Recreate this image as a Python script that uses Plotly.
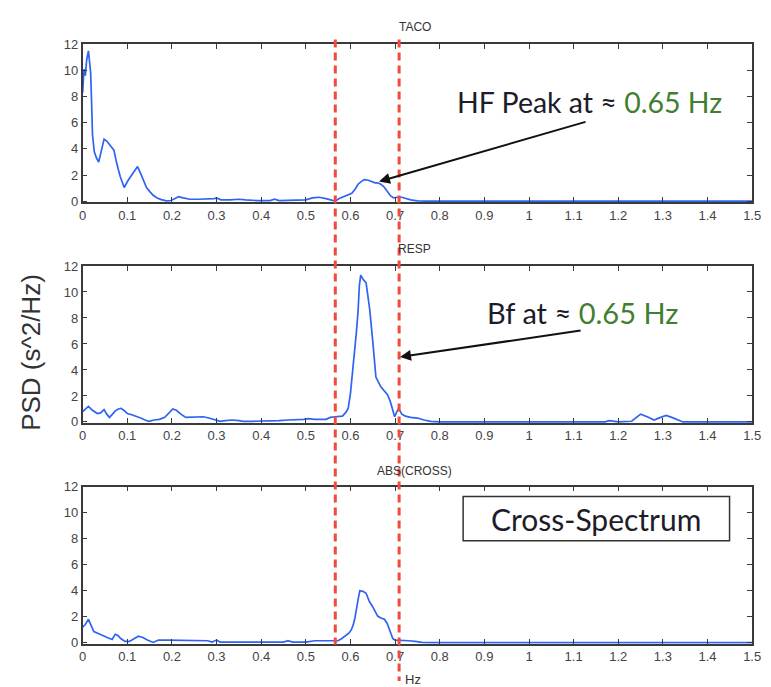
import plotly.graph_objects as go

# Power spectral density estimates (frequency in Hz, PSD in s^2/Hz)
taco_f = [0.000, 0.003, 0.006, 0.009, 0.013, 0.016, 0.018, 0.020, 0.022, 0.026,
          0.031, 0.036, 0.042, 0.048, 0.054, 0.059, 0.065, 0.070, 0.077, 0.084,
          0.093, 0.102, 0.113, 0.123, 0.132, 0.143, 0.150, 0.158, 0.167, 0.176,
          0.188, 0.198, 0.207, 0.215, 0.225, 0.240, 0.260, 0.280, 0.295, 0.300,
          0.310, 0.330, 0.350, 0.365, 0.390, 0.420, 0.430, 0.440, 0.480, 0.500,
          0.515, 0.530, 0.545, 0.560, 0.566, 0.575, 0.585, 0.595, 0.603, 0.610,
          0.617, 0.624, 0.631, 0.640, 0.648, 0.655, 0.661, 0.668, 0.675, 0.683,
          0.690, 0.697, 0.705, 0.715, 0.725, 0.735, 0.750, 0.770, 1.500]
taco_psd = [8.3, 10.1, 9.6, 10.8, 11.5, 10.2, 9.8, 7.6, 5.1, 3.8,
            3.3, 3.0, 3.9, 4.75, 4.6, 4.4, 4.15, 3.9, 2.8, 1.9,
            1.05, 1.6, 2.15, 2.65, 1.95, 1.05, 0.75, 0.45, 0.25, 0.12,
            0.03, 0.05, 0.2, 0.35, 0.25, 0.15, 0.15, 0.15, 0.2, 0.25,
            0.1, 0.1, 0.15, 0.1, 0.05, 0.05, 0.15, 0.05, 0.05, 0.1,
            0.25, 0.3, 0.2, 0.05, 0.0, 0.2, 0.35, 0.45, 0.6, 0.9,
            1.3, 1.5, 1.65, 1.6, 1.5, 1.4, 1.4, 1.3, 1.1, 0.7,
            0.4, 0.25, 0.3, 0.3, 0.2, 0.1, 0.03, 0.0, 0.0]

resp_f = [0.000, 0.006, 0.013, 0.022, 0.033, 0.040, 0.048, 0.054, 0.060, 0.067,
          0.073, 0.080, 0.086, 0.092, 0.100, 0.110, 0.120, 0.130, 0.140, 0.148,
          0.160, 0.172, 0.184, 0.193, 0.202, 0.210, 0.220, 0.231, 0.245, 0.257,
          0.270, 0.283, 0.296, 0.308, 0.320, 0.335, 0.350, 0.360, 0.380, 0.420,
          0.440, 0.460, 0.480, 0.495, 0.505, 0.520, 0.545, 0.555, 0.565, 0.575,
          0.582, 0.590, 0.595, 0.600, 0.605, 0.609, 0.613, 0.617, 0.620, 0.623,
          0.628, 0.635, 0.639, 0.643, 0.650, 0.657, 0.668, 0.676, 0.683, 0.689,
          0.694, 0.699, 0.704, 0.708, 0.715, 0.723, 0.735, 0.750, 0.765, 0.780,
          0.800, 1.170, 1.180, 1.200, 1.230, 1.250, 1.265, 1.280, 1.295, 1.307,
          1.320, 1.335, 1.345, 1.500]
resp_psd = [0.8, 1.0, 1.2, 0.9, 0.65, 0.7, 0.95, 0.6, 0.35, 0.6,
            0.85, 1.0, 1.05, 0.9, 0.65, 0.55, 0.45, 0.3, 0.15, 0.05,
            0.15, 0.2, 0.35, 0.7, 1.0, 0.9, 0.6, 0.35, 0.35, 0.4,
            0.4, 0.3, 0.15, 0.05, 0.1, 0.15, 0.1, 0.05, 0.05, 0.05,
            0.1, 0.15, 0.15, 0.2, 0.25, 0.2, 0.2, 0.35, 0.4, 0.4,
            0.45, 0.75, 1.05, 2.2, 3.8, 5.2, 6.8, 8.5, 10.5, 11.3,
            11.0, 10.7, 9.8, 8.7, 6.2, 3.45, 2.7, 2.4, 2.1, 1.6,
            0.9, 0.4, 0.8, 1.05, 0.6, 0.45, 0.35, 0.3, 0.15, 0.05,
            0.0, 0.0, 0.1, 0.0, 0.05, 0.6, 0.4, 0.15, 0.35, 0.5,
            0.35, 0.15, 0.0, 0.0]

cross_f = [0.000, 0.006, 0.013, 0.019, 0.025, 0.035, 0.044, 0.055, 0.066, 0.073,
           0.079, 0.086, 0.095, 0.105, 0.115, 0.125, 0.135, 0.145, 0.158, 0.170,
           0.190, 0.220, 0.260, 0.280, 0.290, 0.300, 0.308, 0.330, 0.400, 0.450,
           0.460, 0.470, 0.500, 0.520, 0.560, 0.572, 0.580, 0.590, 0.597, 0.602,
           0.606, 0.610, 0.613, 0.617, 0.621, 0.628, 0.635, 0.642, 0.650, 0.656,
           0.661, 0.668, 0.676, 0.682, 0.687, 0.691, 0.695, 0.700, 0.715, 0.730,
           0.745, 0.760, 0.780, 1.500]
cross_psd = [1.2, 1.4, 1.8, 1.3, 0.85, 0.7, 0.55, 0.4, 0.25, 0.65,
             0.55, 0.3, 0.1, 0.1, 0.3, 0.5, 0.4, 0.2, 0.02, 0.2,
             0.2, 0.2, 0.2, 0.15, 0.05, 0.2, 0.05, 0.05, 0.05, 0.05,
             0.15, 0.05, 0.05, 0.15, 0.15, 0.15, 0.3, 0.55, 0.75, 1.0,
             1.35, 1.9, 2.6, 3.3, 4.0, 3.95, 3.8, 3.2, 2.75, 2.3,
             2.05, 1.9, 1.8, 1.5, 1.05, 0.6, 0.3, 0.2, 0.2, 0.15,
             0.1, 0.03, 0.0, 0.0]

panel_titles = ["TACO", "RESP", "ABS(CROSS)"]
x_ticks = [0, 0.1, 0.2, 0.3, 0.4, 0.5, 0.6, 0.7, 0.8, 0.9, 1.0, 1.1, 1.2, 1.3, 1.4, 1.5]
x_tick_text = ["0", "0.1", "0.2", "0.3", "0.4", "0.5", "0.6", "0.7", "0.8", "0.9",
               "1", "1.1", "1.2", "1.3", "1.4", "1.5"]
y_ticks = [0, 2, 4, 6, 8, 10, 12]

# HF band edges (Hz)
band_lo = 0.566
band_hi = 0.709

W, H = 771, 687
BLUE = "#2f63f2"
RED = "#f04b3c"
GREEN = "#3f7f2f"
INK = "#1c1c2a"

def px_x(p):
    return p / W

def px_y(p):
    return (H - p) / H

x_dom = [px_x(80), px_x(761)]
y_doms = [[px_y(199), px_y(38)], [px_y(424), px_y(264)], [px_y(649), px_y(489)]]

fig = go.Figure()
series = [(taco_f, taco_psd), (resp_f, resp_psd), (cross_f, cross_psd)]
for i, (f, p) in enumerate(series):
    sfx = "" if i == 0 else str(i + 1)
    fig.add_trace(go.Scatter(x=f, y=p, mode="lines", xaxis="x" + sfx, yaxis="y" + sfx,
                             line=dict(color=BLUE, width=1.7), showlegend=False,
                             hoverinfo="skip"))

tick_font = dict(family="Liberation Sans, Arial, sans-serif", size=13, color="#444")
axis_common = dict(showline=True, linecolor="#3a3a3a", linewidth=1.5, mirror="ticks",
                   ticks="inside", ticklen=5, tickwidth=1.2, tickcolor="#3a3a3a",
                   showgrid=False, zeroline=False, tickfont=tick_font, fixedrange=True)

layout = dict(width=W, height=H, autosize=False, margin=dict(l=0, r=0, t=0, b=0),
              paper_bgcolor="white", plot_bgcolor="white", showlegend=False)
for i in range(3):
    sfx = "" if i == 0 else str(i + 1)
    layout["xaxis" + sfx] = dict(axis_common, domain=x_dom, range=[0, 1.5],
                                 tickvals=x_ticks, ticktext=x_tick_text,
                                 anchor="y" + sfx)
    layout["yaxis" + sfx] = dict(axis_common, domain=y_doms[i], range=[-0.08, 12],
                                 tickvals=y_ticks, anchor="x" + sfx)
fig.update_layout(**layout)

annotations = []
title_y = [20.5, 247, 473]
for t, yy in zip(panel_titles, title_y):
    annotations.append(dict(text=t, xref="paper", yref="paper", x=px_x(418), y=px_y(yy),
                            xanchor="center", yanchor="middle", showarrow=False,
                            font=dict(family="Liberation Sans, Arial, sans-serif",
                                      size=12, color="#333")))

annotations.append(dict(text="PSD (s^2/Hz)", xref="paper", yref="paper",
                        x=px_x(28), y=px_y(352), textangle=-90, showarrow=False,
                        xanchor="center", yanchor="middle",
                        font=dict(family="Liberation Sans, Arial, sans-serif",
                                  size=26, color="#333")))
annotations.append(dict(text="Hz", xref="paper", yref="paper", x=px_x(416), y=px_y(676),
                        xanchor="center", yanchor="top", showarrow=False,
                        font=dict(family="Liberation Sans, Arial, sans-serif",
                                  size=13, color="#333")))

callout_font = dict(family="Lato, Open Sans, sans-serif", size=28.5, color=INK)
annotations.append(dict(text=f"HF Peak at ≈ <span style='color:{GREEN}'>0.65 Hz</span>",
                        xref="paper", yref="paper", x=px_x(596), y=px_y(97),
                        xanchor="center", yanchor="middle", showarrow=False,
                        font=callout_font))
annotations.append(dict(text=f"Bf at ≈ <span style='color:{GREEN}'>0.65 Hz</span>",
                        xref="paper", yref="paper", x=px_x(588), y=px_y(311),
                        xanchor="center", yanchor="middle", showarrow=False,
                        font=dict(callout_font, size=29)))
annotations.append(dict(text="Cross-Spectrum", xref="paper", yref="paper",
                        x=px_x(602), y=px_y(522), xanchor="center", yanchor="middle",
                        showarrow=False, font=dict(callout_font, size=30)))

# Arrows pointing at the HF peak / band edge
annotations.append(dict(text="", xref="x", yref="y", x=0.664, y=1.5,
                        axref="x", ayref="y", ax=1.13, ay=6.1, showarrow=True,
                        arrowhead=2, arrowsize=1.1, arrowwidth=2, arrowcolor="#111"))
annotations.append(dict(text="", xref="x2", yref="y2", x=0.711, y=5.0,
                        axref="x2", ayref="y2", ax=1.119, ay=7.05, showarrow=True,
                        arrowhead=2, arrowsize=1.1, arrowwidth=2, arrowcolor="#111"))
fig.update_layout(annotations=annotations)

shapes = [
    dict(type="line", xref="x", yref="paper", x0=band_lo, x1=band_lo,
         y0=px_y(33), y1=px_y(650), line=dict(color=RED, width=3, dash="8px,5px")),
    dict(type="line", xref="x", yref="paper", x0=band_hi, x1=band_hi,
         y0=px_y(33), y1=0, line=dict(color=RED, width=3, dash="8px,5px")),
    dict(type="rect", xref="paper", yref="paper", x0=px_x(467), x1=px_x(738),
         y0=px_y(544), y1=px_y(499), line=dict(color="#333", width=1.5),
         fillcolor="white", layer="above"),
]
fig.update_layout(shapes=shapes)

fig.write_html("out.html")
